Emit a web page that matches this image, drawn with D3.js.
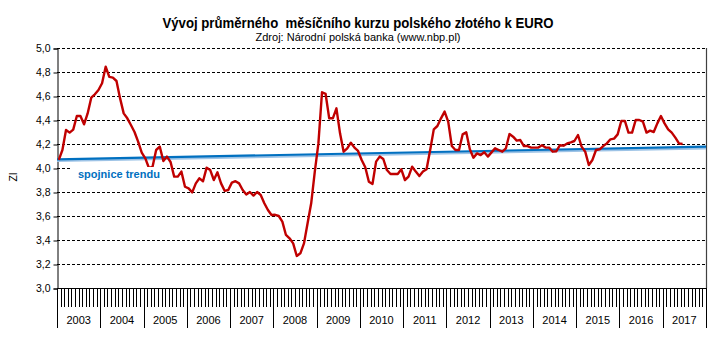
<!DOCTYPE html>
<html><head><meta charset="utf-8">
<script src="https://cdn.jsdelivr.net/npm/d3@7"></script>
<style>
html,body{margin:0;padding:0;background:#fff;}
svg{display:block;}
text{font-family:"Liberation Sans",Arial,sans-serif;}
</style></head>
<body>
<svg id="c" width="715" height="362"></svg>
<script>
const years = ["2003","2004","2005","2006","2007","2008","2009","2010","2011","2012","2013","2014","2015","2016","2017"];
const yTicks = [3.0,3.2,3.4,3.6,3.8,4.0,4.2,4.4,4.6,4.8,5.0];
// monthly average EUR/PLN, Jan 2003 - Jun 2017
const rates = [
4.067,4.15,4.317,4.295,4.32,4.433,4.433,4.364,4.455,4.586,4.614,4.65,
4.706,4.844,4.76,4.753,4.725,4.58,4.455,4.414,4.358,4.30,4.22,4.128,
4.08,4.00,4.01,4.15,4.178,4.058,4.095,4.05,3.928,3.928,3.97,3.844,
3.83,3.797,3.872,3.914,3.89,4.003,3.983,3.90,3.964,3.872,3.81,3.817,
3.878,3.89,3.872,3.817,3.78,3.80,3.77,3.80,3.775,3.706,3.65,3.608,
3.61,3.60,3.553,3.442,3.414,3.372,3.267,3.289,3.372,3.539,3.706,3.97,
4.205,4.631,4.617,4.414,4.414,4.497,4.289,4.136,4.164,4.211,4.17,4.142,
4.067,4.006,3.886,3.867,4.053,4.095,4.075,3.983,3.95,3.95,3.95,3.989,
3.90,3.928,4.011,3.97,3.933,3.97,3.989,4.15,4.322,4.35,4.414,4.47,
4.386,4.183,4.15,4.15,4.28,4.297,4.156,4.086,4.122,4.108,4.131,4.095,
4.13,4.164,4.15,4.136,4.164,4.283,4.261,4.228,4.233,4.183,4.183,4.17,
4.17,4.17,4.19,4.17,4.17,4.136,4.14,4.19,4.186,4.205,4.214,4.225,
4.275,4.178,4.136,4.025,4.067,4.15,4.156,4.183,4.205,4.239,4.245,4.28,
4.392,4.392,4.295,4.295,4.40,4.40,4.386,4.295,4.311,4.30,4.372,4.433,
4.372,4.322,4.295,4.253,4.205,4.20
];
// linear trend line values at start and end of the category axis
const trendEnds = [4.072, 4.178];
const title = "Vývoj průměrného  měsíčního kurzu polského złotého k EURO";
const subtitle = "Zdroj: Národní polská banka (www.nbp.pl)";
const trendLabel = "spojnice trendu";
const yTitle = "Zl";

const svg = d3.select("#c");
const L = 57, R = 706, T = 48, B = 288;

const months = [];
years.forEach(y => { for (let m = 1; m <= 12; m++) months.push(y + "-" + m); });

const x = d3.scaleBand().domain(months).range([L, R]).padding(0);
const y = d3.scaleLinear().domain([3, 5]).range([B, T]);
const xc = i => x(months[i]) + x.bandwidth() / 2;

// title
svg.append("text").attr("x", 358).attr("y", 28).attr("text-anchor", "middle")
  .attr("font-size", 14).attr("font-weight", "bold")
  .attr("textLength", 391).attr("lengthAdjust", "spacingAndGlyphs")
  .style("white-space", "pre").text(title);
svg.append("text").attr("x", 358).attr("y", 41).attr("text-anchor", "middle")
  .attr("font-size", 11).attr("textLength", 205).attr("lengthAdjust", "spacingAndGlyphs")
  .text(subtitle);

// gridlines
svg.append("g").selectAll("line").data(yTicks.filter(d => d > 3)).join("line")
  .attr("x1", L).attr("x2", R).attr("y1", d => y(d) + 0.5).attr("y2", d => y(d) + 0.5)
  .attr("stroke", "#000").attr("stroke-width", 1).attr("stroke-dasharray", "3,2");

// y axis
const yAxis = d3.axisLeft(y).tickValues(yTicks).tickSize(4)
  .tickFormat(d => d3.format(".1f")(d).replace(".", ","));
const gy = svg.append("g").attr("transform", `translate(${L + 0.5},0.5)`).call(yAxis);
gy.select(".domain").attr("stroke", "#000");
gy.selectAll(".tick line").attr("stroke", "#000");
gy.selectAll("text").attr("font-size", 10.5).attr("fill", "#000")
  .attr("font-family", "Liberation Sans, Arial, sans-serif").attr("x", -7);

// right border
svg.append("line").attr("x1", R + 0.5).attr("x2", R + 0.5).attr("y1", T).attr("y2", B)
  .attr("stroke", "#404040").attr("stroke-width", 1.2);

// x axis line
svg.append("line").attr("x1", L).attr("x2", R + 1).attr("y1", B + 0.5).attr("y2", B + 0.5)
  .attr("stroke", "#000");
// month ticks (between categories)
const edges = months.map((m, i) => ({ pos: x(m), year: i % 12 === 0 })).concat([{ pos: R, year: true }]);
svg.append("g").selectAll("line").data(edges).join("line")
  .attr("x1", d => Math.round(d.pos) + 0.5).attr("x2", d => Math.round(d.pos) + 0.5)
  .attr("y1", B).attr("y2", d => d.year ? 328 : 307)
  .attr("stroke", "#000").attr("stroke-width", 1);
// year labels
svg.append("g").selectAll("text").data(years).join("text")
  .attr("x", (d, i) => (x(months[i * 12]) + x(months[i * 12 + 11]) + x.bandwidth()) / 2)
  .attr("y", 324).attr("text-anchor", "middle").attr("font-size", 11).text(d => d);

// y title
svg.append("text").attr("transform", "translate(17,177) rotate(-90)")
  .attr("text-anchor", "middle").attr("font-size", 10.5).text(yTitle);

// trend line
const tx1 = x(months[0]), tx2 = x(months[months.length - 1]) + x.bandwidth();
svg.append("line").attr("x1", tx1).attr("x2", tx2)
  .attr("y1", y(trendEnds[0]) + 1.5).attr("y2", y(trendEnds[1]) + 1.5)
  .attr("stroke", "#9DC3E6").attr("stroke-width", 2.5);
svg.append("line").attr("x1", tx1).attr("x2", tx2)
  .attr("y1", y(trendEnds[0])).attr("y2", y(trendEnds[1]))
  .attr("stroke", "#0070C0").attr("stroke-width", 2.2);

// data line
const line = d3.line().x((d, i) => xc(i)).y(d => y(d));
svg.append("path").datum(rates).attr("d", line).attr("fill", "none")
  .attr("stroke", "#C00000").attr("stroke-width", 2.4).attr("stroke-linejoin", "round");

// trend label with white box
svg.append("rect").attr("x", 72).attr("y", 167).attr("width", 89).attr("height", 16).attr("fill", "#fff");
svg.append("text").attr("x", 78).attr("y", 178).attr("font-size", 11).attr("font-weight", "bold")
  .attr("fill", "#0070C0").text(trendLabel);
</script>
</body></html>
